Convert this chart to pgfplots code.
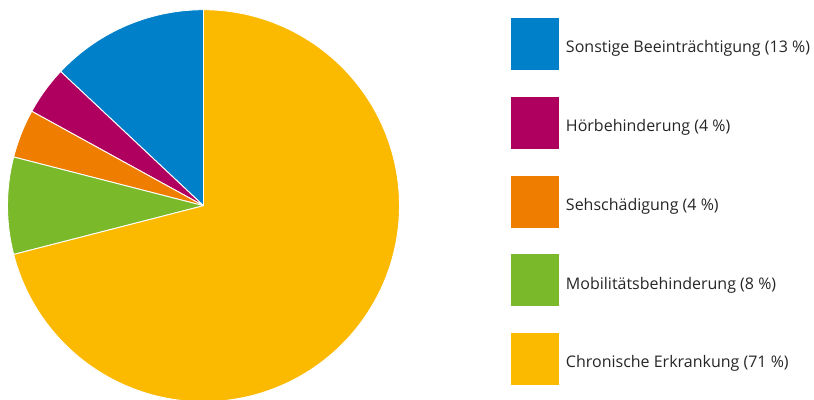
\documentclass[border=0pt]{standalone}
\usepackage{fontspec}
\setmainfont{Open Sans}
\usepackage{pgfplots}
\pgfplotsset{compat=1.18}
\definecolor{cblue}{HTML}{0080C8}
\definecolor{cmag}{HTML}{B0005F}
\definecolor{corange}{HTML}{EE7D00}
\definecolor{cgreen}{HTML}{7AB929}
\definecolor{cyellow}{HTML}{FBB900}
% shares in percent (counter-clockwise from the top)
\def\pA{13}% Sonstige Beeinträchtigung
\def\pB{4}%  Hörbehinderung
\def\pC{4}%  Sehschädigung
\def\pD{8}%  Mobilitätsbehinderung
\def\pE{71}% Chronische Erkrankung
\begin{document}
\begin{tikzpicture}
\useasboundingbox (0,0) rectangle (814bp,400bp);
\pgfmathsetmacro\aA{90}
\pgfmathsetmacro\aB{\aA+3.6*\pA}
\pgfmathsetmacro\aC{\aB+3.6*\pB}
\pgfmathsetmacro\aD{\aC+3.6*\pC}
\pgfmathsetmacro\aE{\aD+3.6*\pD}
\pgfmathsetmacro\aF{\aE+3.6*\pE}
\begin{axis}[
  at={(203.5bp,194.3bp)}, anchor=center,
  width=392bp, height=392bp, scale only axis,
  xmin=-1, xmax=1, ymin=-1, ymax=1,
  hide axis, clip=false,
  legend image code/.code={\fill[#1,draw=none] (0bp,-22.5bp) rectangle (48bp,29.5bp);},
  legend style={at={(axis description cs:1.2844,0.9788)}, anchor=north west,
    draw=none, fill=none, inner sep=0pt, outer sep=0pt,
    row sep=26.75bp, column sep=5bp,
    font=\fontsize{16bp}{18bp}\selectfont, text=black!85},
  legend cell align=left,
]
\addplot[fill=cblue, draw=white, line width=0.9pt, domain=\aA:\aB, samples=40] ({cos(x)},{sin(x)}) -- (axis cs:0,0) -- cycle;
\addlegendentry{Sonstige Beeinträchtigung (13 \%)}
\addplot[fill=cmag, draw=white, line width=0.9pt, domain=\aB:\aC, samples=20] ({cos(x)},{sin(x)}) -- (axis cs:0,0) -- cycle;
\addlegendentry{Hörbehinderung (4 \%)}
\addplot[fill=corange, draw=white, line width=0.9pt, domain=\aC:\aD, samples=20] ({cos(x)},{sin(x)}) -- (axis cs:0,0) -- cycle;
\addlegendentry{Sehschädigung (4 \%)}
\addplot[fill=cgreen, draw=white, line width=0.9pt, domain=\aD:\aE, samples=30] ({cos(x)},{sin(x)}) -- (axis cs:0,0) -- cycle;
\addlegendentry{Mobilitätsbehinderung (8 \%)}
\addplot[fill=cyellow, draw=white, line width=0.9pt, domain=\aE:\aF, samples=150] ({cos(x)},{sin(x)}) -- (axis cs:0,0) -- cycle;
\addlegendentry{Chronische Erkrankung (71 \%)}
\end{axis}
\end{tikzpicture}
\end{document}
